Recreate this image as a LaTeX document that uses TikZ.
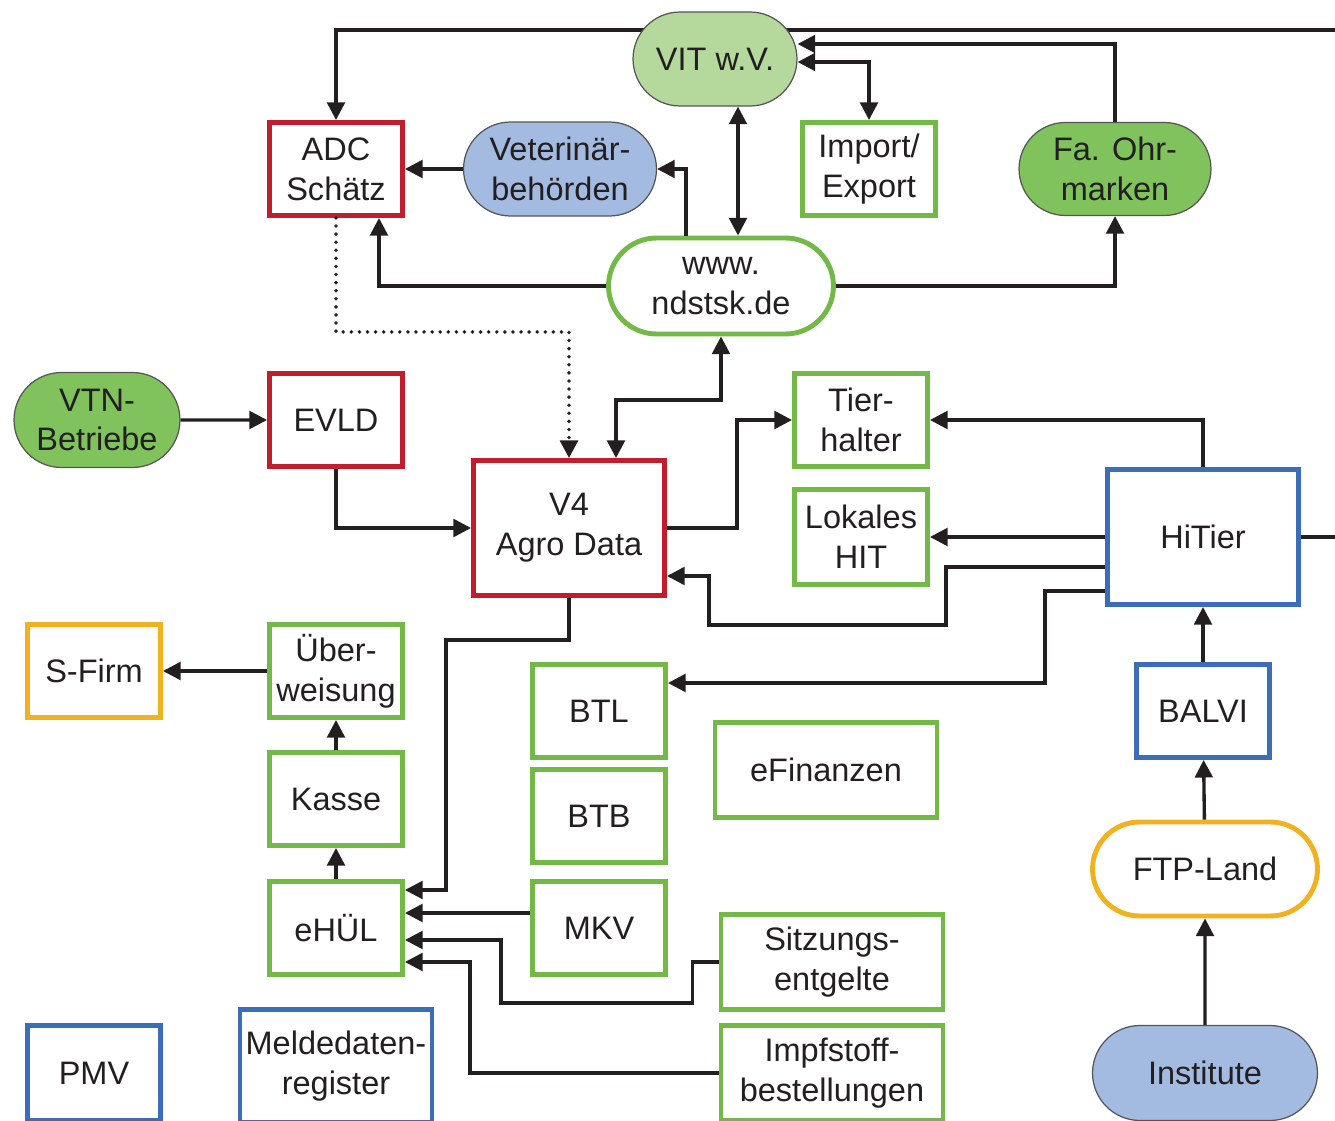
\documentclass[tikz,border=0pt]{standalone}
\usepackage{fontspec}
\setmainfont{Liberation Sans}
\usetikzlibrary{arrows.meta,shapes.misc,calc,backgrounds}

\definecolor{ink}{RGB}{35,31,32}
\definecolor{boxred}{RGB}{192,30,44}
\definecolor{boxgreen}{RGB}{114,185,71}
\definecolor{boxblue}{RGB}{58,110,184}
\definecolor{boxorange}{RGB}{242,178,32}
\definecolor{vitgreen}{RGB}{181,217,156}
\definecolor{pillgreen}{RGB}{128,194,92}
\definecolor{pillblue}{RGB}{163,187,224}
\definecolor{pillline}{RGB}{85,85,85}

\tikzset{
  every node/.style={font=\fontsize{18.5}{22.7}\selectfont, text=ink, align=center, inner sep=0pt},
  box/.style={draw, line width=2.8pt, fill=white, minimum width=2.66cm, minimum height=1.86cm},
  wide/.style={minimum width=4.44cm, minimum height=1.9cm},
  big/.style={minimum width=3.82cm, minimum height=2.7cm},
  redbox/.style={box, draw=boxred},
  greenbox/.style={box, draw=boxgreen},
  bluebox/.style={box, draw=boxblue},
  orangebox/.style={box, draw=boxorange},
  pill/.style={rounded rectangle, draw=pillline, line width=0.7pt},
  ring/.style={rounded rectangle, fill=white, line width=2.8pt},
  arr/.style={draw=ink, line width=1.9pt, -{Triangle[length=10pt,width=10pt]}},
  arrs/.style={arr, {Triangle[length=10pt,width=10pt]}-{Triangle[length=10pt,width=10pt]}},
  dots/.style={line width=2.2pt, line cap=round, dash pattern=on 0pt off 4.6pt}
}

\begin{document}
\begin{tikzpicture}[x=0.02cm, y=-0.02cm]
    \useasboundingbox (0,0) rectangle (1335,1121);

    % Vertices
    \node[pill, fill=vitgreen, minimum width=3.28cm, minimum height=1.88cm] (vit) at (715,59) {VIT w.V.};
    \node[redbox] (adc) at (336,169) {ADC\\Schätz};
    \node[pill, fill=pillblue, minimum width=3.86cm, minimum height=1.88cm] (vet) at (560,169) {Veterinär-\\behörden};
    \node[greenbox] (imp) at (869,169) {Import/\\Export};
    \node[pill, fill=pillgreen, minimum width=3.84cm, minimum height=1.86cm] (ohr) at (1115,169) {Fa. Ohr-\\marken};
    \node[ring, draw=boxgreen, minimum width=4.5cm, minimum height=1.92cm] (www) at (721,286) {www.\\ndstsk.de};

    \node[pill, fill=pillgreen, minimum width=3.32cm, minimum height=1.9cm] (vtn) at (97,420) {VTN-\\Betriebe};
    \node[redbox] (evld) at (336,420) {EVLD};
    \node[redbox, big] (v4) at (569,528) {V4\\Agro Data};
    \node[greenbox] (tier) at (861,420) {Tier-\\halter};
    \node[greenbox, minimum height=1.9cm] (lok) at (861,537) {Lokales\\HIT};
    \node[bluebox, big] (hitier) at (1203,537) {HiTier};

    \node[orangebox] (sfirm) at (94,671) {S-Firm};
    \node[greenbox] (uber) at (336,671) {Über-\\weisung};
    \node[greenbox] (kasse) at (336,799) {Kasse};
    \node[greenbox] (ehul) at (336,928) {eHÜL};
    \node[greenbox] (btl) at (599,711) {BTL};
    \node[greenbox] (btb) at (599,816) {BTB};
    \node[greenbox] (mkv) at (599,928) {MKV};
    \node[greenbox, wide] (efin) at (826,770) {eFinanzen};
    \node[bluebox] (balvi) at (1203,711) {BALVI};
    \node[ring, draw=boxorange, minimum width=4.5cm, minimum height=1.88cm] (ftp) at (1205,869) {FTP-Land};
    \node[greenbox, wide] (sitz) at (832,962) {Sitzungs-\\entgelte};
    \node[greenbox, wide] (impf) at (832,1073) {Impfstoff-\\bestellungen};

    \node[bluebox, minimum height=1.9cm] (pmv) at (94,1073) {PMV};
    \node[bluebox, minimum width=3.84cm, minimum height=2.26cm] (meld) at (336,1066) {Meldedaten-\\register};
    \node[pill, fill=pillblue, minimum width=4.5cm, minimum height=1.9cm] (inst) at (1205,1073) {Institute};

    \coordinate (eR) at (1345,30);

    % Edges
    \begin{pgfonlayer}{background}
      \draw[arr] (eR) -| (adc.north);
    \end{pgfonlayer}
    \draw[arr] (ohr.north) |- ($(vit.east)+(0,-15)$);
    \draw[arrs] (imp.north) |- ($(vit.east)+(0,3)$);
    \draw[arr] (vet.west) -- (adc.east);
    \draw[arr] ($(www.north)+(-35,0)$) |- (vet.east);
    \draw[arrs] ($(vit.south)+(23,0)$) -- ($(www.north)+(17,0)$);
    \draw[arr] (www.west) -| ($(adc.south)+(43,0)$);
    \draw[arr] (www.east) -| (ohr.south);
    \draw[arr, dots] (adc.south) -- ++(0,114) -| (v4.north);
    \draw[arrs] ($(v4.north)+(47,0)$) -- ++(0,-58) -| (www.south);

    \draw[arr] (vtn) -- (evld);
    \draw[arr] (evld.south) |- (v4.west);
    \draw[arr] (v4.east) -- ++(70,0) |- (tier.west);
    \draw[arr] (hitier.north) |- (tier.east);
    \draw[arr] (hitier.west) -- (lok.east);
    \draw[arr] ($(hitier.west)+(0,30)$) -- ++(-159,0) -- ++(0,58) -| ($(v4.east)+(42,48)$) -- ($(v4.east)+(0,48)$);
    \draw[arr] ($(hitier.west)+(0,54)$) -- ++(-60,0) |- ($(btl.east)+(0,-28)$);
    \draw[line width=1.9pt, ink] (hitier.east) -- (hitier.east -| eR);

    \foreach \a/\b in {balvi/hitier, ftp/balvi, inst/ftp, ehul/kasse, kasse/uber, uber/sfirm}
      \draw[arr] (\a) -- (\b);

    \draw[arr] (v4.south) -- ++(0,42) -| ($(ehul.east)+(41,-38)$) -- ($(ehul.east)+(0,-38)$);
    \draw[arr] ($(mkv.west)+(0,-15)$) -- ($(ehul.east)+(0,-15)$);
    \draw[arr] (sitz.west) -- ++(-26,0) -- ++(0,41) -| ($(ehul.east)+(96,12)$) -- ($(ehul.east)+(0,12)$);
    \draw[arr] (impf.west) -| ($(ehul.east)+(65,34)$) -- ($(ehul.east)+(0,34)$);

  \end{tikzpicture}
\end{document}
